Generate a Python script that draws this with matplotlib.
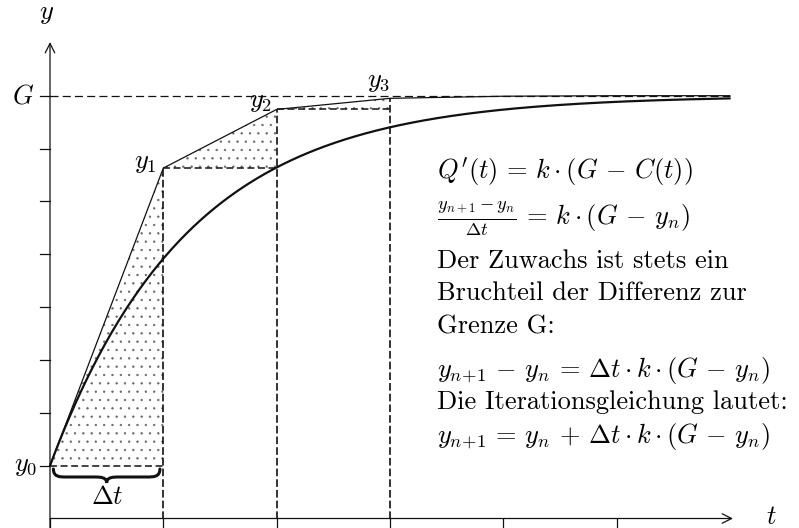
import numpy as np
import matplotlib
matplotlib.use("Agg")
import matplotlib.pyplot as plt
from matplotlib.path import Path
from matplotlib.patches import PathPatch, Polygon

plt.rcParams["mathtext.fontset"] = "cm"
plt.rcParams["font.family"] = ["cmr10", "DejaVu Serif"]
plt.rcParams["axes.formatter.use_mathtext"] = True
plt.rcParams["lines.scale_dashes"] = False
plt.rcParams["hatch.linewidth"] = 0.45

# Model: limit G, start value y0, growth constant k, step width dt
G = 8.0
y0 = 1.0
k = 0.82
dt = 1.0

# Euler iteration values y_0 ... y_6 at t = 0 ... 6
t_steps = [0, 1, 2, 3, 4, 5, 6]
y_steps = [1.0, 6.63, 7.74, 7.95, 7.99, 8.0, 8.0]
step_labels = [r"$y_0$", r"$y_1$", r"$y_2$", r"$y_3$"]

x_ticks = [0, 1, 2, 3, 4, 5]
y_ticks = [1, 2, 3, 4, 5, 6, 7, 8]

W, H = 799, 528
fig = plt.figure(figsize=(W / 100, H / 100), dpi=100)
ax = fig.add_axes([0, 0, 1, 1])
ux, uy = 113.3, 52.85          # pixels per unit
ox, oy = 50.0, 518.5           # origin in pixels (from top-left)
ax.set_xlim(-ox / ux, (W - ox) / ux)
ax.set_ylim(-(H - oy) / uy, oy / uy)
ax.axis("off")


def fpos(x, y):
    return (x / W, 1 - y / H)


blk = "#111111"

# axes with arrows
ax.annotate("", xy=((733 - ox) / ux, 0), xytext=(0, 0),
            arrowprops=dict(arrowstyle="->", lw=0.9, color=blk,
                            mutation_scale=17, shrinkA=0, shrinkB=0))
ax.annotate("", xy=(0, (oy - 42) / uy), xytext=(0, -(H - oy) / uy),
            arrowprops=dict(arrowstyle="->", lw=0.9, color=blk,
                            mutation_scale=17, shrinkA=0, shrinkB=0))
for xt in x_ticks:
    ax.plot([xt, xt], [0, -8.5 / uy], color=blk, lw=0.9)
for yt in y_ticks:
    ax.plot([-10 / ux, 0], [yt, yt], color=blk, lw=0.9)

# limit line
ax.plot([0, 6.0], [G, G], color=blk, lw=0.9, dashes=(5.8, 3.0))

# dotted triangles between successive Euler points
for i in range(3):
    tri = Polygon([(t_steps[i], y_steps[i]), (t_steps[i + 1], y_steps[i + 1]),
                   (t_steps[i + 1], y_steps[i])], closed=True,
                  facecolor="none", edgecolor="#666666", lw=0, hatch="..")
    ax.add_patch(tri)

# dashed step guides
for i in range(3):
    ax.plot([t_steps[i], t_steps[i + 1]], [y_steps[i], y_steps[i]],
            color=blk, lw=1.1, dashes=(5.0, 2.6))
    ax.plot([t_steps[i + 1], t_steps[i + 1]], [0, y_steps[i + 1]],
            color=blk, lw=1.2, dashes=(5.5, 2.2))

# exact solution of y' = k (G - y)
tt = np.linspace(0, 6, 400)
ax.plot(tt, G - (G - y0) * np.exp(-k * tt), color=blk, lw=1.6,
        solid_capstyle="round")

# Euler polygon
ax.plot(t_steps, y_steps, color=blk, lw=0.9, solid_joinstyle="miter")

# curly brace under the first step
def brace(x0, x1, ytop, ybar, ytip):
    xm = 0.5 * (x0 + x1)
    ex = 0.06 * (x1 - x0)
    verts = [(x0, ytop), (x0, ybar), (x0 + ex, ybar), (x0 + 2 * ex, ybar),
             (xm - 2 * ex, ybar), (xm - ex, ybar), (xm, ybar), (xm, ytip),
             (xm, ybar), (xm + ex, ybar), (xm + 2 * ex, ybar),
             (x1 - 2 * ex, ybar), (x1 - ex, ybar), (x1, ybar), (x1, ytop)]
    codes = [Path.MOVETO, Path.CURVE4, Path.CURVE4, Path.CURVE4,
             Path.LINETO, Path.CURVE4, Path.CURVE4, Path.CURVE4,
             Path.CURVE4, Path.CURVE4, Path.CURVE4,
             Path.LINETO, Path.CURVE4, Path.CURVE4, Path.CURVE4]
    ax.add_patch(PathPatch(Path(verts, codes), facecolor="none",
                           edgecolor=blk, lw=2.2, capstyle="round"))


brace(0.03, 0.97, (oy - 469) / uy, (oy - 477) / uy, (oy - 483) / uy)

fs = 19
# point labels
fig.text(*fpos(37, 471), step_labels[0], fontsize=fs, ha="right", va="baseline")
fig.text(*fpos(157, 168), step_labels[1], fontsize=fs, ha="right", va="baseline")
fig.text(*fpos(272, 107), step_labels[2], fontsize=fs, ha="right", va="baseline")
fig.text(*fpos(390, 87), step_labels[3], fontsize=fs, ha="right", va="baseline")
fig.text(*fpos(34, 104), r"$G$", fontsize=fs, ha="right", va="baseline")
fig.text(*fpos(47, 19), r"$y$", fontsize=fs, ha="center", va="baseline")
fig.text(*fpos(771, 524), r"$t$", fontsize=fs, ha="center", va="baseline")
fig.text(*fpos(107, 504), r"$\Delta t$", fontsize=fs, ha="center", va="baseline")

# explanation text
lx = 437
lines = [
    (178, r"$Q'(t) \,=\, k\cdot(G \,-\, C(t))$"),
    (225, r"$\frac{y_{n+1}-y_n}{\Delta t} \,=\, k\cdot(G \,-\, y_n)$"),
    (268, "Der Zuwachs ist stets ein"),
    (300, "Bruchteil der Differenz zur"),
    (333, "Grenze G:"),
    (377, r"$y_{n\!+\!1} \,-\, y_n \,=\, \Delta t\cdot k\cdot(G \,-\, y_n)$"),
    (409, "Die Iterationsgleichung lautet:"),
    (443, r"$y_{n\!+\!1} \,=\, y_n \,+\, \Delta t\cdot k\cdot(G \,-\, y_n)$"),
]
for yb, s in lines:
    fig.text(*fpos(lx, yb), s, fontsize=fs, ha="left", va="baseline")

fig.savefig("out.png", dpi=100)
